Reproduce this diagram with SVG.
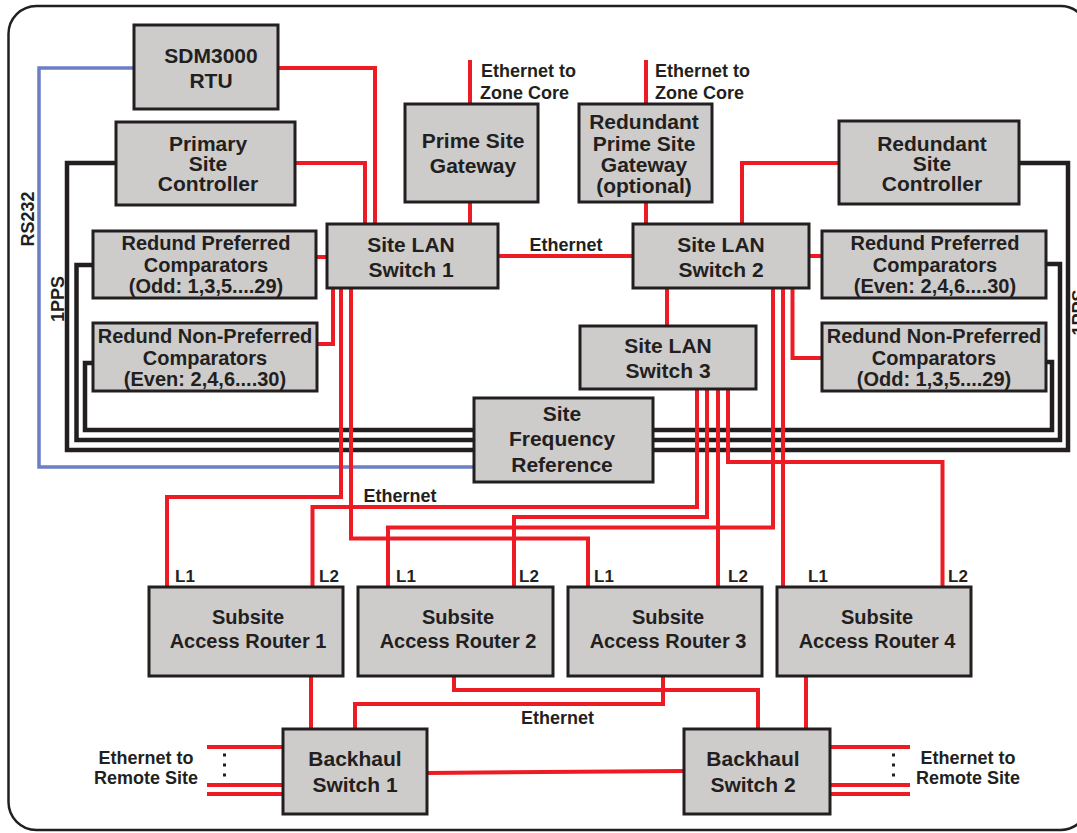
<svg xmlns="http://www.w3.org/2000/svg" width="1077" height="833" viewBox="0 0 1077 833">
  <defs>
    <style>
      .box { fill: #cdcccb; stroke: #231f20; stroke-width: 3; }
      .t { font-family: "Liberation Sans", Arial, sans-serif; font-weight: bold; fill: #231f20; text-anchor: middle; }
      .big { font-size: 21px; }
      .cmp { font-size: 20px; }
      .rt { font-size: 20px; }
      .lbl { font-size: 18px; }
      .ll { font-size: 17px; text-anchor: start; }
      .st { text-anchor: start; }
      .red { fill: none; stroke: #ed1c24; stroke-width: 4; }
      .blk { fill: none; stroke: #231f20; stroke-width: 4.5; }
      .blu { fill: none; stroke: #6b7fc4; stroke-width: 3.5; }
      .dot { fill: #231f20; }
    </style>
  </defs>

  <rect width="1077" height="833" fill="#ffffff"/>
  <!-- outer frame -->
  <rect x="8.5" y="6" width="1080" height="824" rx="28" fill="none" stroke="#231f20" stroke-width="2.5"/>

  <!-- side labels -->
  <text class="t lbl" transform="translate(33.5,219) rotate(-90)">RS232</text>
  <text class="t lbl" transform="translate(63.5,299) rotate(-90)">1PPS</text>
  <text class="t lbl" transform="translate(1084.5,312.5) rotate(-90)">1PPS</text>

  <g id="connectors">
    <!-- RS232 -->
    <path class="blu" d="M134,68 H39 V467 H474"/>
    <!-- 1PPS distribution -->
    <path class="blk" d="M116,163 H67 V450 H474"/>
    <path class="blk" d="M93,265 H76.5 V440 H474"/>
    <path class="blk" d="M93,363 H85 V430 H474"/>
    <path class="blk" d="M1019,163 H1068 V450 H653"/>
    <path class="blk" d="M1046,264 H1060 V440 H653"/>
    <path class="blk" d="M1046,362 H1052 V430 H653"/>

    <!-- Ethernet links -->
    <path class="red" d="M278,68 H375 V224"/>
    <path class="red" d="M295,163 H365 V224"/>
    <path class="red" d="M470,60 V104"/>
    <path class="red" d="M470,202 V224"/>
    <path class="red" d="M646,60 V104"/>
    <path class="red" d="M646,202 V224"/>
    <path class="red" d="M498,256 H633"/>
    <path class="red" d="M316,257 H327"/>
    <path class="red" d="M809,256 H822"/>
    <path class="red" d="M839,163 H742 V224"/>
    <path class="red" d="M667,288 V326"/>

    <path class="red" d="M333,288 V344 H317"/>
    <path class="red" d="M341,288 V497 H167 V587"/>
    <path class="red" d="M351,288 V538.5 H588 V587"/>

    <path class="red" d="M697,389 V507 H312.5 V587"/>
    <path class="red" d="M707,389 V517 H514 V587"/>
    <path class="red" d="M718,389 V587"/>
    <path class="red" d="M728,389 V462 H942.5 V587"/>

    <path class="red" d="M792.5,288 V358 H822"/>
    <path class="red" d="M773,288 V527.5 H388 V587"/>
    <path class="red" d="M783,288 V587"/>

    <path class="red" d="M311,676 V729"/>
    <path class="red" d="M454,676 V690 H758 V729"/>
    <path class="red" d="M663,676 V704 H355 V729"/>
    <path class="red" d="M806,676 V729"/>
    <path class="red" d="M427,773 L684,771"/>

    <path class="red" d="M207,747 H283 M207,785 H283 M207,794 H283"/>
    <path class="red" d="M830,747 H910 M830,785 H910 M830,794 H910"/>
  </g>

  <!-- link labels -->
  <text class="t lbl st" x="481" y="77">Ethernet to</text>
  <text class="t lbl st" x="480" y="99">Zone Core</text>
  <text class="t lbl st" x="655" y="77">Ethernet to</text>
  <text class="t lbl st" x="655" y="99">Zone Core</text>
  <text class="t lbl" x="566" y="250.5">Ethernet</text>
  <text class="t lbl" x="400" y="502">Ethernet</text>
  <text class="t lbl" x="557.5" y="723.5">Ethernet</text>
  <text class="t lbl" x="146" y="764">Ethernet to</text>
  <text class="t lbl" x="146" y="783.5">Remote Site</text>
  <text class="t lbl" x="968" y="764">Ethernet to</text>
  <text class="t lbl" x="968" y="783.5">Remote Site</text>
  <rect class="dot" x="223" y="753.5" width="3" height="3"/>
  <rect class="dot" x="223" y="763.5" width="3" height="3"/>
  <rect class="dot" x="223" y="773.5" width="3" height="3"/>
  <rect class="dot" x="892" y="753.5" width="3" height="3"/>
  <rect class="dot" x="892" y="763.5" width="3" height="3"/>
  <rect class="dot" x="892" y="773.5" width="3" height="3"/>

  <!-- router port labels -->
  <text class="t ll" x="175" y="582">L1</text>
  <text class="t ll" x="319" y="582">L2</text>
  <text class="t ll" x="396" y="582">L1</text>
  <text class="t ll" x="519" y="582">L2</text>
  <text class="t ll" x="594" y="582">L1</text>
  <text class="t ll" x="728" y="582">L2</text>
  <text class="t ll" x="808" y="582">L1</text>
  <text class="t ll" x="948" y="582">L2</text>

  <g id="rtu">
    <rect class="box" x="134" y="25" width="144" height="84"/>
    <text class="t big" x="211" y="63">SDM3000</text>
    <text class="t big" x="211" y="88">RTU</text>
  </g>

  <g id="primary-site-controller">
    <rect class="box" x="116" y="122" width="179" height="83"/>
    <text class="t big" x="208" y="151">Primary</text>
    <text class="t big" x="208" y="171">Site</text>
    <text class="t big" x="208" y="191">Controller</text>
  </g>

  <g id="prime-site-gateway">
    <rect class="box" x="405" y="104" width="133" height="98"/>
    <text class="t big" x="473" y="148">Prime Site</text>
    <text class="t big" x="473" y="173">Gateway</text>
  </g>

  <g id="redundant-prime-site-gateway">
    <rect class="box" x="579" y="104" width="133" height="98"/>
    <text class="t big" x="644" y="129">Redundant</text>
    <text class="t big" x="644" y="151">Prime Site</text>
    <text class="t big" x="644" y="172">Gateway</text>
    <text class="t big" x="644" y="193">(optional)</text>
  </g>

  <g id="redundant-site-controller">
    <rect class="box" x="839" y="121" width="180" height="83"/>
    <text class="t big" x="932" y="151">Redundant</text>
    <text class="t big" x="932" y="171">Site</text>
    <text class="t big" x="932" y="191">Controller</text>
  </g>

  <g id="redund-preferred-odd">
    <rect class="box" x="93" y="231" width="223" height="67"/>
    <text class="t cmp" x="206" y="250">Redund Preferred</text>
    <text class="t cmp" x="206" y="271.5">Comparators</text>
    <text class="t cmp" x="206" y="293">(Odd: 1,3,5....29)</text>
  </g>

  <g id="site-lan-switch-1">
    <rect class="box" x="327" y="224" width="171" height="64"/>
    <text class="t big" x="411" y="252">Site LAN</text>
    <text class="t big" x="411" y="277">Switch 1</text>
  </g>

  <g id="site-lan-switch-2">
    <rect class="box" x="633" y="224" width="176" height="64"/>
    <text class="t big" x="721" y="252">Site LAN</text>
    <text class="t big" x="721" y="277">Switch 2</text>
  </g>

  <g id="redund-preferred-even">
    <rect class="box" x="822" y="231" width="224" height="67"/>
    <text class="t cmp" x="935" y="250">Redund Preferred</text>
    <text class="t cmp" x="935" y="271.5">Comparators</text>
    <text class="t cmp" x="935" y="293">(Even: 2,4,6....30)</text>
  </g>

  <g id="redund-non-preferred-even">
    <rect class="box" x="93" y="323" width="224" height="68"/>
    <text class="t cmp" x="205" y="343">Redund Non-Preferred</text>
    <text class="t cmp" x="205" y="365">Comparators</text>
    <text class="t cmp" x="205" y="386">(Even: 2,4,6....30)</text>
  </g>

  <g id="site-lan-switch-3">
    <rect class="box" x="580" y="326" width="176" height="63"/>
    <text class="t big" x="668" y="353">Site LAN</text>
    <text class="t big" x="668" y="378">Switch 3</text>
  </g>

  <g id="redund-non-preferred-odd">
    <rect class="box" x="822" y="323" width="224" height="68"/>
    <text class="t cmp" x="934" y="343">Redund Non-Preferred</text>
    <text class="t cmp" x="934" y="365">Comparators</text>
    <text class="t cmp" x="934" y="386">(Odd: 1,3,5....29)</text>
  </g>

  <g id="site-frequency-reference">
    <rect class="box" x="474" y="398" width="179" height="84"/>
    <text class="t big" x="562" y="421">Site</text>
    <text class="t big" x="562" y="446">Frequency</text>
    <text class="t big" x="562" y="472">Reference</text>
  </g>

  <g id="access-router-1">
    <rect class="box" x="149" y="587" width="194" height="89"/>
    <text class="t rt" x="248" y="624">Subsite</text>
    <text class="t rt" x="248" y="648">Access Router 1</text>
  </g>

  <g id="access-router-2">
    <rect class="box" x="358" y="587" width="195" height="89"/>
    <text class="t rt" x="458" y="624">Subsite</text>
    <text class="t rt" x="458" y="648">Access Router 2</text>
  </g>

  <g id="access-router-3">
    <rect class="box" x="568" y="587" width="194" height="89"/>
    <text class="t rt" x="668" y="624">Subsite</text>
    <text class="t rt" x="668" y="648">Access Router 3</text>
  </g>

  <g id="access-router-4">
    <rect class="box" x="777" y="587" width="194" height="89"/>
    <text class="t rt" x="877" y="624">Subsite</text>
    <text class="t rt" x="877" y="648">Access Router 4</text>
  </g>

  <g id="backhaul-switch-1">
    <rect class="box" x="283" y="729" width="144" height="85"/>
    <text class="t big" x="355" y="766">Backhaul</text>
    <text class="t big" x="355" y="792">Switch 1</text>
  </g>

  <g id="backhaul-switch-2">
    <rect class="box" x="684" y="729" width="146" height="85"/>
    <text class="t big" x="753" y="766">Backhaul</text>
    <text class="t big" x="753" y="792">Switch 2</text>
  </g>
</svg>
